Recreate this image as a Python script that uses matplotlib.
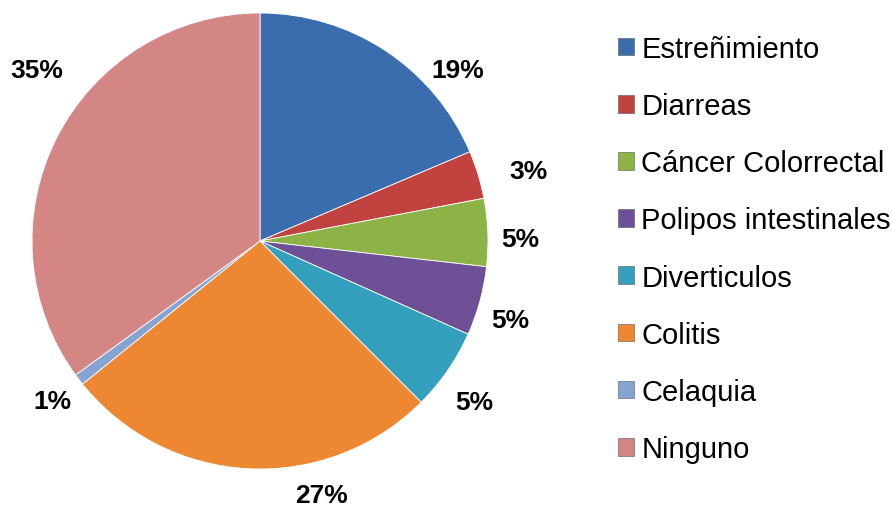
import matplotlib
matplotlib.use("Agg")
import matplotlib.pyplot as plt
from matplotlib.patches import Patch

plt.rcParams['font.family'] = ['Liberation Sans', 'DejaVu Sans']

# ── data (share of slice, printed labels as shown) ──
categories = ['Estreñimiento', 'Diarreas', 'Cáncer Colorrectal',
              'Polipos intestinales', 'Diverticulos', 'Colitis',
              'Celaquia', 'Ninguno']
values     = [18.6, 3.4, 4.8, 4.9, 5.8, 26.7, 0.8, 35.0]
pct_labels = ['19%', '3%', '5%', '5%', '5%', '27%', '1%', '35%']

colors = ['#3A6DAE', '#C0433F', '#8DB246', '#6D5096',
          '#34A0BD', '#EE8731', '#86A4D2', '#D48685']

W, H = 892, 510
CX, CY, R = 260, 242, 228     # pie centre / radius in pixels

fig = plt.figure(figsize=(W / 100, H / 100), dpi=100)
ax = fig.add_axes([0, 0, 520 / W, 1])

wedges, _ = ax.pie(values, colors=colors, startangle=90, counterclock=False,
                   radius=1.0, center=(0, 0), frame=True,
                   wedgeprops=dict(edgecolor='#ffffff', linewidth=0.6))
ax.set_xlim(-CX / R, (520 - CX) / R)
ax.set_ylim(-(H - CY) / R, CY / R)
ax.set_aspect('auto')
ax.axis('off')

# label positions (pixel centres measured on the reference)
label_px = [(458, 71), (528, 172), (520, 240), (510, 321),
            (474, 403), (321, 496), (52, 402), (37, 71)]
for txt, (px, py) in zip(pct_labels, label_px):
    ax.text((px - CX) / R, (CY - py) / R, txt, ha='center', va='center',
            fontsize=19, fontweight='bold', color='black')

handles = [Patch(facecolor=c, edgecolor='#555555', linewidth=0.4) for c in colors]
fig.legend(handles, categories, loc='center left',
           bbox_to_anchor=(618 / W, 1 - 250 / H), frameon=False,
           fontsize=21, handlelength=0.55, handleheight=0.55,
           handletextpad=0.25, labelspacing=1.0, borderpad=0,
           borderaxespad=0)

fig.savefig('out.png', dpi=100)
